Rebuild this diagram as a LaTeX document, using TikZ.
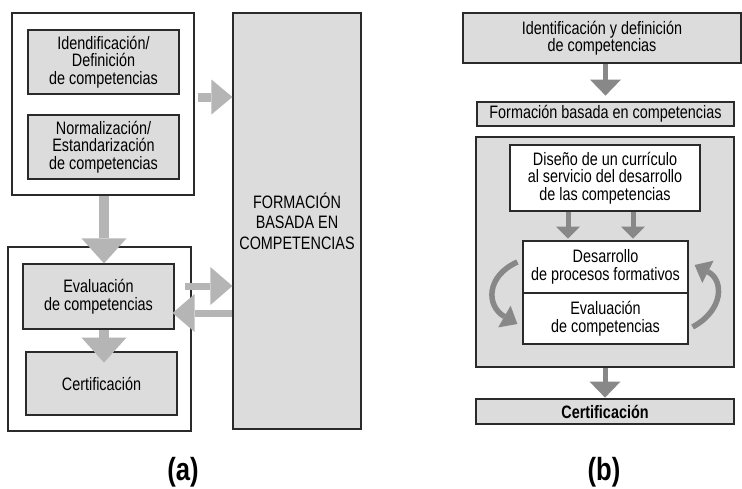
\documentclass[tikz,border=0pt]{standalone}
\usepackage{fontspec}
\setmainfont[FakeStretch=0.8]{Liberation Sans}
\usetikzlibrary{arrows.meta,calc}

\definecolor{boxgrey}{HTML}{DCDCDC}
\definecolor{arrowlight}{HTML}{B5B5B5}
\definecolor{arrowdark}{HTML}{888888}
\definecolor{edge}{HTML}{2A2A2A}

\begin{document}
\begin{tikzpicture}[x=1pt,y=-1pt,
  txt/.style={font=\fontsize{18}{17.5}\selectfont, align=center},
  frame/.style={draw=edge, line width=1.2pt, fill=white, inner sep=0pt},
  greybox/.style={draw=edge, line width=1.2pt, fill=boxgrey, inner sep=0pt, txt},
  whitebox/.style={draw=edge, line width=1.2pt, fill=white, inner sep=0pt, txt},
  wh/.style 2 args={minimum width=#1pt, minimum height=#2pt},
  bigarrow/.style={draw=arrowlight, line width=9pt,
    -{Triangle[length=21pt,width=35pt,line width=0pt]}},
  downarrow/.style={draw=arrowlight, line width=10pt,
    -{Triangle[length=25pt,width=45pt,line width=0pt]}},
  sidearrow/.style={draw=arrowlight, line width=7pt,
    -{Triangle[length=22pt,width=38pt,line width=0pt]}},
  darrow/.style={draw=arrowdark, line width=5pt,
    -{Triangle[length=16pt,width=31pt,line width=0pt]}},
  smallarrow/.style={draw=arrowdark, line width=5pt,
    -{Triangle[length=12pt,width=24pt,line width=0pt]}},
  looparrow/.style={draw=arrowdark, line width=5.5pt,
    -{Triangle[length=15pt,width=25pt,line width=0pt]}},
  panel/.style={font=\bfseries\fontsize{32}{34}\selectfont}
]
\useasboundingbox (0,0) rectangle (742,488);

% ---------- (a) ----------
\node[frame, wh={182}{182}] (outerA) at (103,104) {};
\node[greybox, wh={151}{64}] (identA) at (103.5,62)
  {Idendificación/\\Definición\\de competencias};
\node[greybox, wh={151}{64}] (normA) at (103.5,147)
  {Normalización/\\Estandarización\\de competencias};
\node[greybox, wh={128}{416}, font=\fontsize{18}{20.5}\selectfont] (formA) at (297,221)
  {FORMACIÓN\\BASADA EN\\COMPETENCIAS};
\node[frame, wh={183}{184}] (outerB) at (99.5,339) {};
\node[greybox, wh={151}{65}] (evalA) at (98.5,296.5)
  {Evaluación\\de competencias};
\node[greybox, wh={151}{63}] (certA) at (101.5,383.5) {Certificación};

\draw[bigarrow] ([xshift=3pt,yshift=7pt]outerA.east) -- ([yshift=7pt]outerA.east -| formA.west);
\draw[downarrow] ([xshift=1pt]outerA.south) -- ([xshift=1pt]outerA.south |- evalA.north);
\draw[downarrow] ($(evalA.south)+(5.5,0)$) coordinate (evA) -- ($(evA)+(0,33)$);
\draw[sidearrow] ([xshift=10pt,yshift=10.5pt]evalA.east) -- ([yshift=10.5pt]evalA.east -| formA.west);
\draw[sidearrow] ([yshift=-16.5pt]evalA.east -| formA.west) -- ([xshift=-2pt,yshift=-16.5pt]evalA.east);

\node[panel] (labA) at (183,472) {(a)};

% ---------- (b) ----------
\node[greybox, wh={278}{50}] (identB) at (602,38)
  {Identificación y definición\\de competencias};
\node[greybox, wh={257}{24}] (formB) at (605.5,114) {Formación basada en competencias};
\node[greybox, wh={258}{230}] (bigB) at (605,252) {};
\node[whitebox, wh={190}{66}] (disB) at (605,178)
  {Diseño de un currículo\\al servicio del desarrollo\\de las competencias};
\node[whitebox, wh={165}{52}] (desB) at (605.5,267)
  {Desarrollo\\de procesos formativos};
\node[whitebox, wh={165}{51}] (evalB) at (605.5,318.5)
  {Evaluación\\de competencias};
\node[greybox, wh={258}{25}, font=\bfseries\fontsize{18}{17.5}\selectfont] (certB) at (605,411.5)
  {Certificación};

\draw[darrow] ([xshift=3.5pt]identB.south) -- ([xshift=3.5pt,yshift=-32pt]identB.south);
\draw[smallarrow] ([xshift=-37pt]disB.south) -- ([xshift=-37pt,yshift=-27pt]disB.south);
\draw[smallarrow] ([xshift=28pt]disB.south) -- ([xshift=28pt,yshift=-27pt]disB.south);
\draw[darrow] (bigB.south) -- ([yshift=-30pt]bigB.south);

\draw[looparrow] ($(desB.west)+(-5,-5)$) .. controls (486,276) and (486,306) .. ($(evalB.west)+(-5,5.5)$);
\draw[looparrow] ($(evalB.east)+(4,8.5)$) .. controls (724,310) and (724,280) .. ($(desB.east)+(6,-2)$);

\node[panel] (labB) at (604,472) {(b)};
\end{tikzpicture}
\end{document}
